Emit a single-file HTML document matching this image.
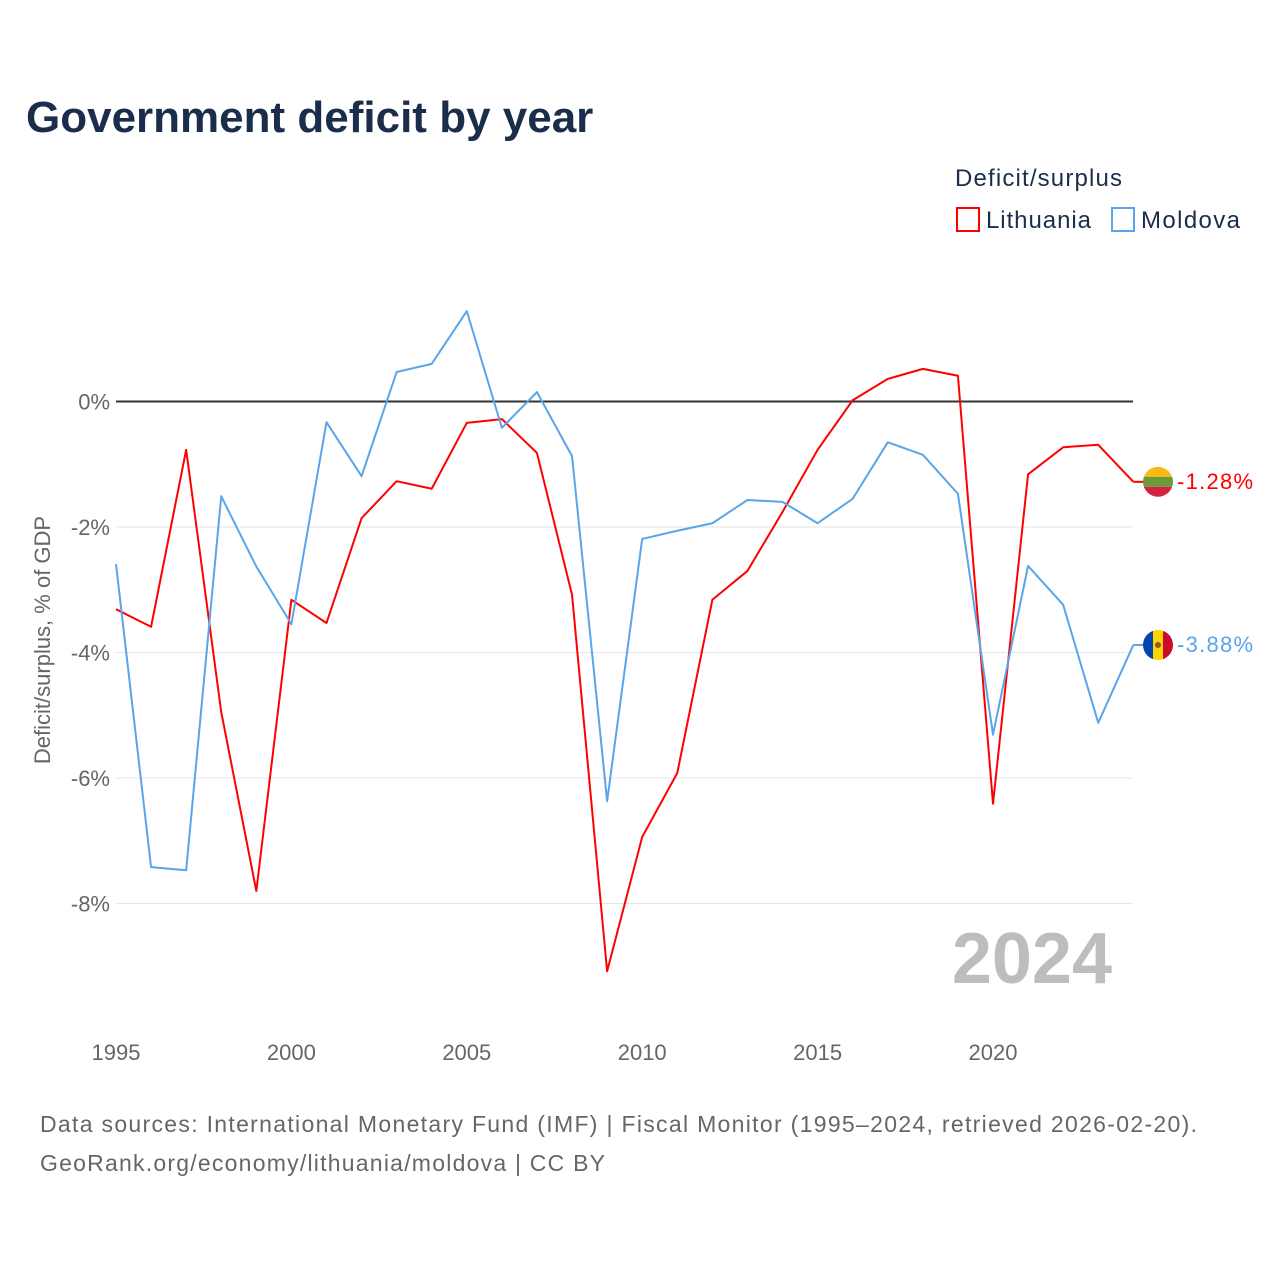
<!DOCTYPE html>
<html><head><meta charset="utf-8">
<style>
body{margin:0;background:#fff;font-family:"Liberation Sans",sans-serif;}
svg text{font-family:"Liberation Sans",sans-serif;}
</style></head>
<body>
<svg id="chart" width="1280" height="1280" xmlns="http://www.w3.org/2000/svg">
<rect width="1280" height="1280" fill="#fff"/>
<text x="26" y="132" font-size="44" font-weight="bold" fill="#1a2e4c">Government deficit by year</text>
<text x="955" y="186" font-size="24" fill="#1a2e4c" textLength="167">Deficit/surplus</text>
<g>
<rect x="957" y="208" width="22" height="23" fill="none" stroke="#ff0000" stroke-width="2"/>
<text x="986" y="228" font-size="24" fill="#1a2e4c" textLength="105">Lithuania</text></g>
<g>
<rect x="1112" y="208" width="22" height="23" fill="none" stroke="#5aa5ea" stroke-width="2"/>
<text x="1141" y="228" font-size="24" fill="#1a2e4c" textLength="99">Moldova</text></g>
<text transform="translate(50,640) rotate(-90)" text-anchor="middle" font-size="22" fill="#666">Deficit/surplus, % of GDP</text>
<text x="1112" y="983" text-anchor="end" font-size="72" font-weight="bold" fill="#bdbdbd">2024</text>
<g id="grid"></g><g id="series"></g>
<text x="40" y="1132" font-size="23" fill="#666" textLength="1157">Data sources: International Monetary Fund (IMF) | Fiscal Monitor (1995–2024, retrieved 2026-02-20).</text>
<text x="40" y="1171" font-size="23" fill="#666" textLength="565">GeoRank.org/economy/lithuania/moldova | CC BY</text>
</svg>
<script>
const years=[1995,1996,1997,1998,1999,2000,2001,2002,2003,2004,2005,2006,2007,2008,2009,2010,2011,2012,2013,2014,2015,2016,2017,2018,2019,2020,2021,2022,2023,2024];
const lithuania=[-3.31,-3.59,-0.77,-4.95,-7.80,-3.16,-3.53,-1.86,-1.27,-1.39,-0.34,-0.28,-0.82,-3.08,-9.08,-6.94,-5.92,-3.16,-2.70,-1.76,-0.77,0.02,0.36,0.52,0.41,-6.41,-1.16,-0.73,-0.69,-1.28];
const moldova=[-2.59,-7.42,-7.47,-1.51,-2.63,-3.55,-0.33,-1.19,0.47,0.60,1.44,-0.42,0.15,-0.87,-6.37,-2.19,-2.06,-1.94,-1.57,-1.60,-1.94,-1.55,-0.65,-0.85,-1.47,-5.31,-2.62,-3.24,-5.12,-3.88];
const yTicks=[0,-2,-4,-6,-8];
const xTicks=[1995,2000,2005,2010,2015,2020];
const NS="http://www.w3.org/2000/svg";
const x=v=>116+(v-1995)*35.08;
const y=v=>401.5-v*62.75;
function mk(t,a,p){const e=document.createElementNS(NS,t);for(const k in a)e.setAttribute(k,a[k]);p.appendChild(e);return e;}
const grid=document.getElementById('grid'),ser=document.getElementById('series');
yTicks.forEach(v=>{
  const l=mk('line',{x1:116,x2:1133,y1:y(v),y2:y(v),stroke:v===0?'#333':'#e6e6e6','stroke-width':v===0?2:1},grid);
  
  
  const t=mk('text',{x:110,y:y(v)+8,'text-anchor':'end','font-size':22,fill:'#666'},grid);
  t.textContent=v+'%';
  
  
});
xTicks.forEach(v=>{
  const t=mk('text',{x:x(v),y:1060,'text-anchor':'middle','font-size':22,fill:'#666'},grid);
  t.textContent=v;
  
  
});
function drawSeries(vals,color,name,flag){
  const p=mk('polyline',{points:vals.map((v,i)=>x(years[i])+','+y(v)).join(' '),fill:'none',stroke:color,'stroke-width':2,'stroke-linejoin':'round'},ser);
  
  
  const last=vals[vals.length-1],ly=y(last);
  const g=mk('g',{},ser);
  
  
  mk('line',{x1:x(2024),x2:1145,y1:ly,y2:ly,stroke:color,'stroke-width':2},g);
  const cid='clip'+name;
  const cp=mk('clipPath',{id:cid},g);mk('circle',{cx:1158,cy:ly,r:15},cp);
  const fg=mk('g',{'clip-path':'url(#'+cid+')'},g);
  flag(fg,ly);
  const t=mk('text',{x:1177,y:ly+7,'font-size':22,fill:color,textLength:76},g);
  t.textContent=last.toFixed(2)+'%';
}
drawSeries(lithuania,'#ff0000','lithuania',(g,cy)=>{
  mk('rect',{x:1143,y:cy-15,width:30,height:10,fill:'#fdb913'},g);
  mk('rect',{x:1143,y:cy-5,width:30,height:10,fill:'#6a9a3a'},g);
  mk('rect',{x:1143,y:cy+5,width:30,height:10,fill:'#d4213d'},g);
});
drawSeries(moldova,'#5aa5ea','moldova',(g,cy)=>{
  mk('rect',{x:1143,y:cy-15,width:10,height:30,fill:'#0046ae'},g);
  mk('rect',{x:1153,y:cy-15,width:10,height:30,fill:'#ffd200'},g);
  mk('rect',{x:1163,y:cy-15,width:10,height:30,fill:'#cc092f'},g);
  mk('circle',{cx:1158,cy:cy,r:3,fill:'#8b5a2b'},g);
});
</script>
</body></html>
